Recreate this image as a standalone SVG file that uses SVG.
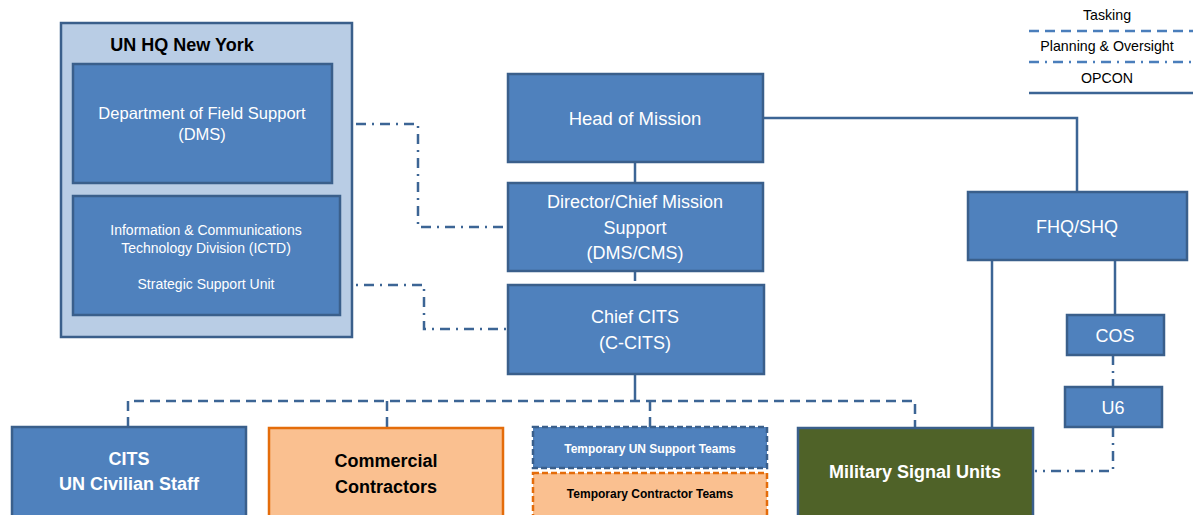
<svg xmlns="http://www.w3.org/2000/svg" width="1193" height="515" viewBox="0 0 1193 515">
<style>
text{font-family:"Liberation Sans",Arial,sans-serif;text-anchor:middle;dominant-baseline:central}
.box{fill:#4F81BD;stroke:#3A5F8B;stroke-width:2.5}
.w{fill:#FFFFFF}
.k{fill:#000000}
.b{font-weight:bold}
.solid{fill:none;stroke:#3C6595;stroke-width:2.5}
.dash{fill:none;stroke:#3C6595;stroke-width:2.5;stroke-dasharray:10 6}
.dd{fill:none;stroke:#3C6595;stroke-width:2.5;stroke-dasharray:10 6 2 6}
.lg{fill:none;stroke:#4A7EBB;stroke-width:2.5}
</style>
<rect width="1193" height="515" fill="#FFFFFF"/>
<g id="legend">
<text x="1107" y="15" class="k" font-size="14.2">Tasking</text>
<line x1="1029" y1="31" x2="1193" y2="31" class="lg" stroke-dasharray="10 6"/>
<text x="1107" y="46" class="k" font-size="14.2">Planning &amp; Oversight</text>
<line x1="1029" y1="62" x2="1193" y2="62" class="lg" stroke-dasharray="10 6 2 6"/>
<text x="1107" y="78" class="k" font-size="14.2">OPCON</text>
<line x1="1029" y1="93" x2="1193" y2="93" stroke="#3C6595" stroke-width="2.5"/>
</g>
<g id="connectors">
<line x1="206.5" y1="183" x2="206.5" y2="196" class="solid"/>
<polyline points="332,124 418,124 418,227 508,227" class="dd"/>
<polyline points="340,285 424,285 424,329 508,329" class="dd"/>
<line x1="635" y1="162" x2="635" y2="183" class="solid"/>
<line x1="635" y1="271" x2="635" y2="285" class="dd"/>
<polyline points="763,118 1077,118 1077,192" class="solid"/>
<line x1="635" y1="374" x2="635" y2="401" class="solid"/>
<polyline points="128,427 128,401 915,401 915,428" class="dash"/>
<line x1="387" y1="401" x2="387" y2="428" class="dash"/>
<line x1="650" y1="401" x2="650" y2="427" class="dash"/>
<line x1="992" y1="260" x2="992" y2="428" class="solid"/>
<line x1="1115" y1="260" x2="1115" y2="315" class="solid"/>
<line x1="1113" y1="355" x2="1113" y2="387" class="dd"/>
<polyline points="1113,427 1113,471 1035,471" class="dd"/>
</g>
<g id="un-hq">
<rect x="61" y="23" width="291" height="314" fill="#B9CDE5" stroke="#3A5F8B" stroke-width="2.5"/>
<text x="182" y="45" class="k b" font-size="18">UN HQ New York</text>
</g>
<g id="dfs">
<rect x="73" y="64" width="259" height="119" class="box"/>
<text x="202" y="113" class="w" font-size="16.5">Department of Field Support</text>
<text x="202" y="134" class="w" font-size="16.5">(DMS)</text>
</g>
<g id="ictd">
<rect x="73" y="196" width="267" height="119" class="box"/>
<text x="206" y="230" class="w" font-size="14">Information &amp; Communications</text>
<text x="206" y="248" class="w" font-size="14">Technology Division (ICTD)</text>
<text x="206" y="284" class="w" font-size="14">Strategic Support Unit</text>
</g>
<g id="head-of-mission">
<rect x="508" y="74" width="255" height="88" class="box"/>
<text x="635" y="118" class="w" font-size="18.5">Head of Mission</text>
</g>
<g id="director">
<rect x="508" y="183" width="255" height="88" class="box"/>
<text x="635" y="202" class="w" font-size="18">Director/Chief Mission</text>
<text x="635" y="228" class="w" font-size="18">Support</text>
<text x="635" y="253" class="w" font-size="18">(DMS/CMS)</text>
</g>
<g id="chief-cits">
<rect x="508" y="285" width="256" height="89" class="box"/>
<text x="635" y="317" class="w" font-size="18">Chief CITS</text>
<text x="635" y="343" class="w" font-size="18">(C-CITS)</text>
</g>
<g id="fhq-shq">
<rect x="968" y="192" width="219" height="68" class="box"/>
<text x="1077" y="227" class="w" font-size="18">FHQ/SHQ</text>
</g>
<g id="cos">
<rect x="1067" y="315" width="97" height="40" class="box"/>
<text x="1115" y="336" class="w" font-size="18">COS</text>
</g>
<g id="u6">
<rect x="1065" y="387" width="97" height="40" class="box"/>
<text x="1113" y="408" class="w" font-size="18">U6</text>
</g>
<g id="cits-staff">
<rect x="12" y="427" width="234" height="100" class="box"/>
<text x="129" y="459" class="w b" font-size="18">CITS</text>
<text x="129" y="484" class="w b" font-size="18">UN Civilian Staff</text>
</g>
<g id="commercial-contractors">
<rect x="269" y="428" width="234" height="100" fill="#FAC090" stroke="#E46C0A" stroke-width="2.5"/>
<text x="386" y="461" class="k b" font-size="18">Commercial</text>
<text x="386" y="487" class="k b" font-size="18">Contractors</text>
</g>
<g id="temp-un-teams">
<rect x="533" y="427" width="234" height="41" class="box" stroke-dasharray="6 3"/>
<text x="650" y="449" class="w b" font-size="12">Temporary UN Support Teams</text>
</g>
<g id="temp-contractor-teams">
<rect x="533" y="473" width="234" height="55" fill="#FAC090" stroke="#E46C0A" stroke-width="2.5" stroke-dasharray="6 3"/>
<text x="650" y="494" class="k b" font-size="12">Temporary Contractor Teams</text>
</g>
<g id="military-signal-units">
<rect x="798" y="428" width="235" height="100" fill="#4F6228" stroke="#3A5F8B" stroke-width="2.5"/>
<text x="915" y="472" class="w b" font-size="18">Military Signal Units</text>
</g>
</svg>
